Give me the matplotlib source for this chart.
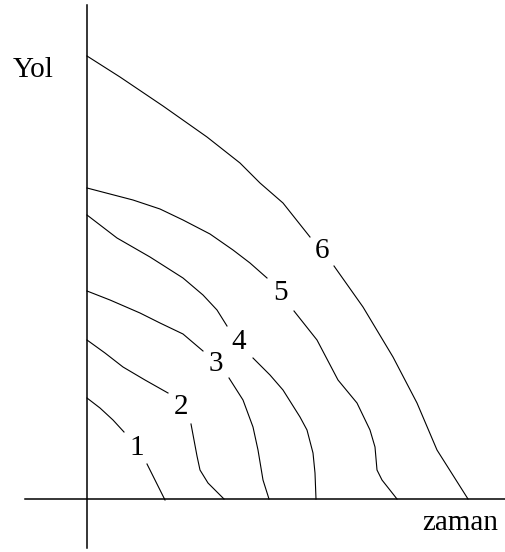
import matplotlib
matplotlib.use("Agg")
import matplotlib.pyplot as plt

plt.rcParams['font.family'] = ['Liberation Serif', 'DejaVu Serif']

# curves (pixel space, y grows downward), each split
# into the part before its label and the part after it
labels = ['1', '2', '3', '4', '5', '6']
label_x = [137, 181, 216, 239, 281, 322]
label_y = [448, 407, 364, 342, 293, 251]

upper_x = [
    [87, 100, 113, 124],
    [87, 105, 123, 145, 168],
    [87, 110, 140, 160, 183, 203],
    [87, 117, 150, 183, 203, 217, 227],
    [87, 110, 133, 160, 183, 210, 233, 250, 267],
    [87, 120, 163, 207, 240, 260, 283, 310],
]
upper_y = [
    [398, 408, 420, 432],
    [340, 353, 367, 380, 393],
    [291, 300, 313, 323, 334, 351],
    [215, 238, 257, 278, 295, 310, 326],
    [188, 194, 200, 209, 220, 234, 250, 263, 278],
    [56, 77, 106, 137, 163, 183, 203, 237],
]
lower_x = [
    [147, 156, 165],
    [191, 194, 197, 200, 208, 224],
    [229, 243, 253, 258, 263, 269],
    [253, 270, 283, 300, 307, 313, 315, 316],
    [294, 317, 338, 357, 370, 375, 377, 382, 397],
    [334, 363, 393, 417, 437, 468],
]
lower_y = [
    [464, 482, 500],
    [424, 440, 456, 470, 483, 499],
    [378, 400, 427, 450, 480, 499],
    [358, 375, 390, 417, 430, 453, 473, 499],
    [311, 340, 380, 403, 430, 447, 470, 480, 499],
    [266, 307, 357, 403, 450, 499],
]

fig = plt.figure(figsize=(5.06, 5.52), dpi=100)
ax = fig.add_axes([0, 0, 1, 1])
ax.set_xlim(0, 506)
ax.set_ylim(552, 0)
ax.axis('off')

# axes
ax.plot([87, 87], [5, 548], color='black', lw=1.1)
ax.plot([25, 506], [499, 499], color='black', lw=1.1)

for i in range(len(labels)):
    ax.plot(upper_x[i], upper_y[i], color='black', lw=0.8)
    ax.plot(lower_x[i], lower_y[i], color='black', lw=0.8)
    ax.text(label_x[i], label_y[i], labels[i], fontsize=21,
            ha='center', va='center')

ax.text(13, 70, 'Yol', fontsize=21, ha='left', va='center')
ax.text(498, 530, 'zaman', fontsize=21, ha='right', va='baseline')

fig.savefig('out.png', dpi=100)
